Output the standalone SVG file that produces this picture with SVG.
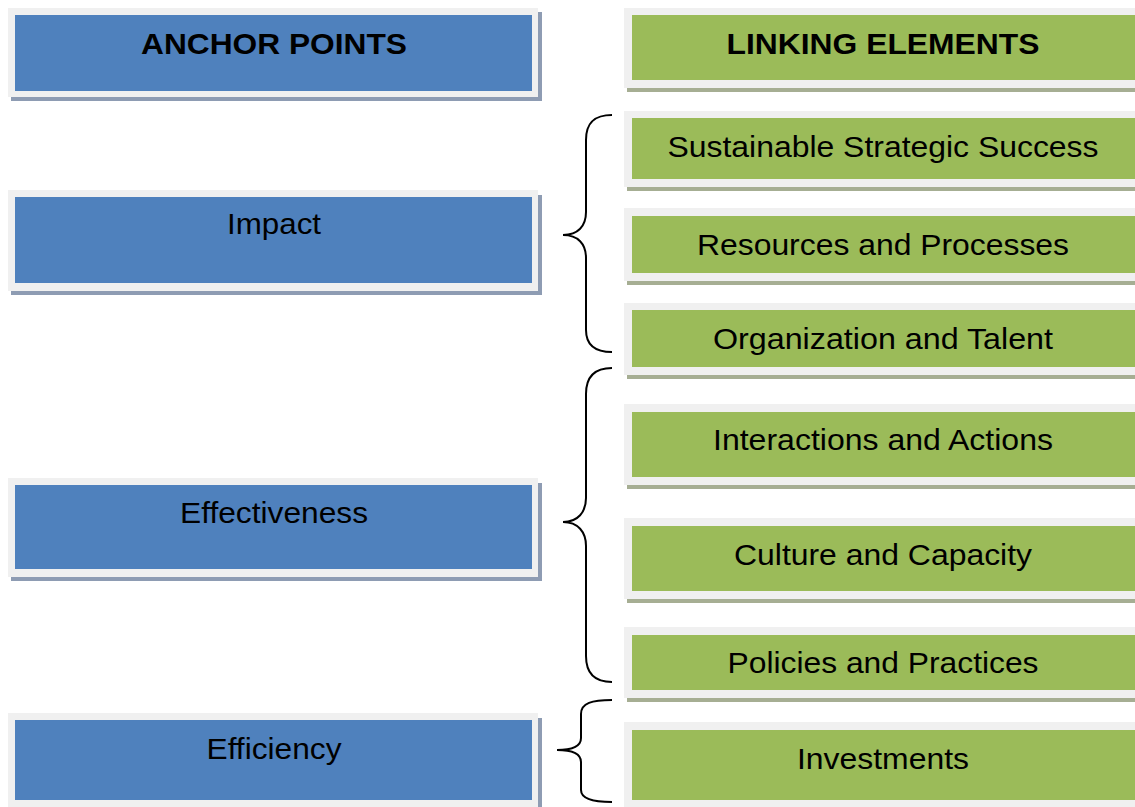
<svg xmlns="http://www.w3.org/2000/svg" width="1135" height="807" viewBox="0 0 1135 807">
<style>
.frame{fill:#f0f0f0}
.bshadow{fill:#8e9cb3}
.gshadow{fill:#a6ae93}
.blue{fill:#4f81bd}
.green{fill:#9bbb59}
.t{font-family:"Liberation Sans",Arial,sans-serif;font-size:30px;fill:#000;text-anchor:middle}
.b{font-weight:bold}
.brace{fill:none;stroke:#000;stroke-width:2}
</style>
<rect width="1135" height="807" fill="#fff"/>
<g id="anchor-points">
<rect class="bshadow" x="11" y="12" width="531" height="89"/>
<rect class="frame" x="8" y="8" width="530" height="89"/>
<rect class="blue" x="15" y="15" width="517" height="76"/>
<text class="t b" x="274" y="54" textLength="266" lengthAdjust="spacingAndGlyphs">ANCHOR POINTS</text>
</g>
<g id="impact">
<rect class="bshadow" x="11" y="195" width="531" height="100"/>
<rect class="frame" x="8" y="190" width="530" height="101"/>
<rect class="blue" x="15" y="197" width="517" height="86"/>
<text class="t" x="274" y="234" textLength="94" lengthAdjust="spacingAndGlyphs">Impact</text>
</g>
<g id="effectiveness">
<rect class="bshadow" x="11" y="483" width="531" height="98"/>
<rect class="frame" x="8" y="478" width="530" height="99"/>
<rect class="blue" x="15" y="485" width="517" height="84"/>
<text class="t" x="274" y="523" textLength="188" lengthAdjust="spacingAndGlyphs">Effectiveness</text>
</g>
<g id="efficiency">
<rect class="bshadow" x="11" y="718" width="531" height="95"/>
<rect class="frame" x="8" y="713" width="530" height="95"/>
<rect class="blue" x="15" y="720" width="517" height="80"/>
<text class="t" x="274" y="759" textLength="135" lengthAdjust="spacingAndGlyphs">Efficiency</text>
</g>
<g id="linking-elements">
<rect class="gshadow" x="627" y="12" width="508" height="80"/>
<rect class="frame" x="624" y="8" width="511" height="80"/>
<rect class="green" x="632" y="15" width="503" height="65"/>
<text class="t b" x="883" y="54" textLength="313" lengthAdjust="spacingAndGlyphs">LINKING ELEMENTS</text>
</g>
<g id="sustainable-strategic-success">
<rect class="gshadow" x="627" y="116" width="508" height="75"/>
<rect class="frame" x="624" y="111" width="511" height="76"/>
<rect class="green" x="632" y="118" width="503" height="61"/>
<text class="t" x="883" y="157" textLength="431" lengthAdjust="spacingAndGlyphs">Sustainable Strategic Success</text>
</g>
<g id="resources-and-processes">
<rect class="gshadow" x="627" y="212" width="508" height="73"/>
<rect class="frame" x="624" y="208" width="511" height="73"/>
<rect class="green" x="632" y="216" width="503" height="57"/>
<text class="t" x="883" y="255" textLength="372" lengthAdjust="spacingAndGlyphs">Resources and Processes</text>
</g>
<g id="organization-and-talent">
<rect class="gshadow" x="627" y="307" width="508" height="72"/>
<rect class="frame" x="624" y="303" width="511" height="72"/>
<rect class="green" x="632" y="310" width="503" height="57"/>
<text class="t" x="883" y="349" textLength="340" lengthAdjust="spacingAndGlyphs">Organization and Talent</text>
</g>
<g id="interactions-and-actions">
<rect class="gshadow" x="627" y="408" width="508" height="81"/>
<rect class="frame" x="624" y="404" width="511" height="81"/>
<rect class="green" x="632" y="412" width="503" height="65"/>
<text class="t" x="883" y="450" textLength="340" lengthAdjust="spacingAndGlyphs">Interactions and Actions</text>
</g>
<g id="culture-and-capacity">
<rect class="gshadow" x="627" y="522" width="508" height="81"/>
<rect class="frame" x="624" y="518" width="511" height="81"/>
<rect class="green" x="632" y="526" width="503" height="65"/>
<text class="t" x="883" y="565" textLength="298" lengthAdjust="spacingAndGlyphs">Culture and Capacity</text>
</g>
<g id="policies-and-practices">
<rect class="gshadow" x="627" y="631" width="508" height="71"/>
<rect class="frame" x="624" y="627" width="511" height="71"/>
<rect class="green" x="632" y="635" width="503" height="55"/>
<text class="t" x="883" y="673" textLength="311" lengthAdjust="spacingAndGlyphs">Policies and Practices</text>
</g>
<g id="investments">
<rect class="frame" x="624" y="722" width="511" height="85"/>
<rect class="green" x="632" y="730" width="503" height="70"/>
<text class="t" x="883" y="769" textLength="172" lengthAdjust="spacingAndGlyphs">Investments</text>
</g>
<g id="connectors">
<path class="brace" d="M612,115 C595,115 586,122 586,140 L586,212 C586,226 578,235 563,235 C578,235 586,244 586,258 L586,330 C586,345 595,352 612,352"/>
<path class="brace" d="M612,368 C595,368 586,376 586,394 L586,498 C586,512 578,522 563,522 C578,522 586,532 586,546 L586,656 C586,674 595,682 612,682"/>
<path class="brace" d="M612,700 C592,700 581,703 581,714 L581,738 C581,746 572,750 557,750 C572,750 581,754 581,762 L581,790 C581,798 592,802 612,802"/>
</g>
</svg>
